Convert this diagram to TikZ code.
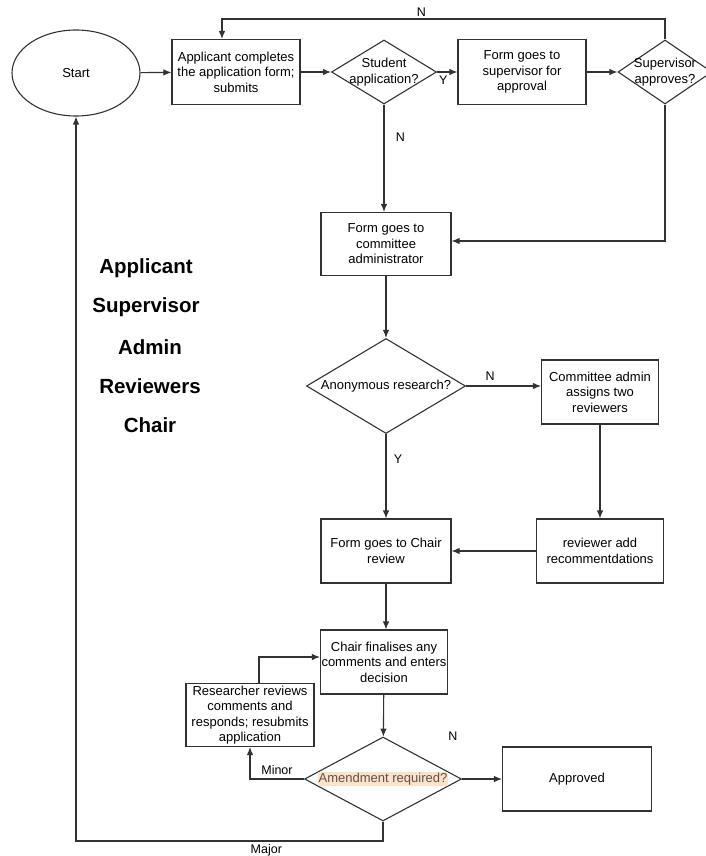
\documentclass[tikz,border=0pt]{standalone}
\usepackage{fontspec}
\setmainfont{Liberation Sans}
\usetikzlibrary{shapes.geometric,arrows.meta}
\definecolor{ln}{RGB}{50,50,50}
\definecolor{hl}{RGB}{252,226,200}
\definecolor{hltext}{RGB}{95,82,70}
\begin{document}
\begin{tikzpicture}[x=1pt,y=-1pt,
  every node/.style={font=\fontsize{13}{15.5}\selectfont, text=black},
  proc/.style={draw=ln, line width=1.1pt, minimum width=#1, align=center, inner sep=1pt},
  proc/.default=128pt,
  dec/.style={draw=ln, line width=1.1pt, diamond, inner sep=0pt, label={[align=center]center:#1}},
  lab/.style={font=\fontsize{12.5}{14}\selectfont},
  role/.style={font=\bfseries\fontsize{20.5}{23}\selectfont},
  arr/.style={draw=ln, line width=1.1pt, -{Latex[length=8pt,width=6.5pt]}},
  ln/.style={draw=ln, line width=1.1pt}
]
\useasboundingbox (0,0) rectangle (705,856);

\node[draw=ln, line width=1.1pt, ellipse, minimum width=128pt, minimum height=86pt] (start) at (76,73) {Start};
\node[proc, minimum height=65pt] (apply) at (236,72) {Applicant completes\\the application form;\\submits};
\node[dec={Student\\application?}, minimum width=105pt, minimum height=64pt] (student) at (384,72) {};
\node[proc, minimum height=65pt] (tosup) at (522,72) {Form goes to\\supervisor for\\approval};
\node[dec={Supervisor\\approves?}, minimum width=94pt, minimum height=64pt] (supapp) at (665,72) {};
\node[proc=130pt, minimum height=63pt] (admin) at (386,244) {Form goes to\\committee\\administrator};
\node[dec={Anonymous research?}, minimum width=159pt, minimum height=95pt] (anon) at (386,386) {};
\node[proc=117pt, minimum height=64pt] (assign) at (600,392) {Committee admin\\assigns two\\reviewers};
\node[proc=130pt, minimum height=64pt] (chairrev) at (386,551) {Form goes to Chair\\review};
\node[proc=127pt, minimum height=64pt] (revadd) at (600,551) {reviewer add\\recommentdations};
\node[proc=126pt, minimum height=64pt] (final) at (384,662) {Chair finalises any\\comments and enters\\decision};
\node[proc=128pt, minimum height=63pt] (research) at (250,715) {Researcher reviews\\comments and\\responds; resubmits\\application};
\node[dec={\setlength{\fboxsep}{1pt}\colorbox{hl}{\color{hltext}Amendment required?}}, minimum width=157pt, minimum height=84pt] (amend) at (383,779) {};
\node[proc=149pt, minimum height=64pt] (approved) at (577,779) {Approved};

\node[role] (r1) at (146,268) {Applicant};
\node[role] (r2) at (146,307) {Supervisor};
\node[role] (r3) at (150,347) {Admin};
\node[role] (r4) at (150,386) {Reviewers};
\node[role] (r5) at (150,425) {Chair};

\coordinate (t1) at (665,19);
\coordinate (t2) at (222,19);
\coordinate (s1) at (665,241);
\coordinate (m1) at (383,841);
\coordinate (m2) at (76,841);
\coordinate (mi) at (250,779);
\coordinate (rr) at (259,657);

\draw[arr] (start) -- (apply);
\draw[arr] (apply) -- (student);
\draw[arr] (student) -- node[lab, pos=0.3, below=0pt] (ly) {Y} (tosup);
\draw[arr] (tosup) -- (supapp);
\draw[arr] (supapp.north) -- (t1) -- node[lab, pos=0.55, above=-1pt] (ln1) {N} (t2) -- (apply.north -| t2);
\draw[arr] (student.south) -- node[lab, pos=0.3, right=8pt] (ln2) {N} (admin.north -| student.south);
\draw[arr] (supapp.south) -- (s1) -- (admin.east |- s1);
\draw[arr] (admin) -- (anon);
\draw[arr] (anon.east) -- node[lab, pos=0.32, above=2pt] (ln3) {N} (assign.west |- anon.east);
\draw[arr] (anon.south) -- node[lab, pos=0.3, right=4pt] (ly2) {Y} (chairrev.north -| anon.south);
\draw[arr] (assign) -- (revadd);
\draw[arr] (revadd) -- (chairrev);
\draw[arr] (chairrev.south) -- (final.north -| chairrev.south);
\draw[arr] (final) -- (amend);
\draw[arr] (amend.west) -- node[lab, pos=0.5, above=1pt] (lmin) {Minor} (mi) -- (research.south -| mi);
\draw[arr] (research.north -| rr) -- (rr) -- (final.west |- rr);
\draw[arr] (amend) -- (approved);
\node[lab] (ln4) at (453,736) {N};
\draw[arr] (amend.south) -- (m1) -- node[lab, pos=0.38, below=0pt] (lmaj) {Major} (m2) -- (start.south);
\end{tikzpicture}
\end{document}
